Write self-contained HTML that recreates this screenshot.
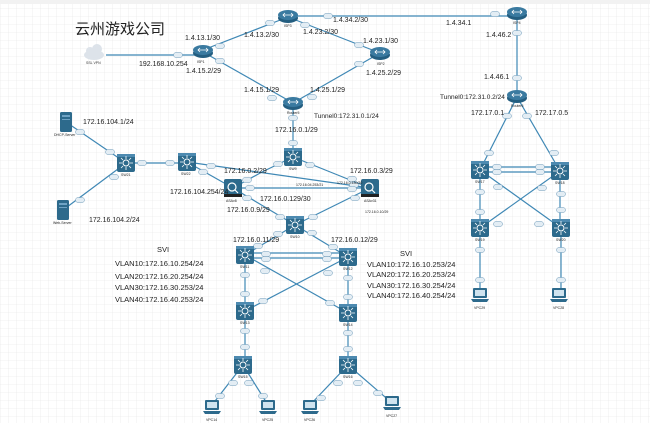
<!DOCTYPE html>
<html><head><meta charset="utf-8"><style>
html,body{margin:0;padding:0;width:650px;height:423px;overflow:hidden;background:#fff}
svg{display:block}
text{font-family:"Liberation Sans","Noto Sans CJK SC",sans-serif;fill:#222}
.l{font-size:7px}
.s{font-size:3.5px;fill:#333}
.v{font-size:7.5px}
</style></head><body>
<svg width="650" height="423" viewBox="0 0 650 423" xmlns="http://www.w3.org/2000/svg">
<defs>
<pattern id="g" width="8" height="8" patternUnits="userSpaceOnUse"><path d="M8 0H0V8" fill="none" stroke="#e4e4e4" stroke-width="0.6"/></pattern>
<g id="sw"><rect x="-9" y="-9" width="18" height="18" rx="2" fill="#2d6a8c"/><rect x="-9" y="-9" width="18" height="3" fill="#4d8ab0"/><circle r="3" fill="none" stroke="#fff" stroke-width="1"/><path d="M0-7V-4M0 4V7M-7 0H-4M4 0H7M-5-5L-3-3M5 5L3 3M5-5L3-3M-5 5L-3 3" stroke="#fff" stroke-width="0.8"/></g>
<g id="rt"><ellipse cx="0" cy="2" rx="10" ry="5" fill="#245e80"/><ellipse cx="0" cy="-1" rx="10" ry="5" fill="#3a7aa0"/><path d="M-5-1H5M-3-3L-5-1L-3 1M3-3L5-1L3 1" stroke="#fff" stroke-width="0.8" fill="none"/></g>
<g id="asa"><rect x="-9" y="-9" width="18" height="18" rx="2" fill="#2d6a8c"/><rect x="-9" y="6" width="18" height="3" fill="#222"/><circle cx="-1" cy="-1" r="4" fill="none" stroke="#fff" stroke-width="1.2"/><path d="M2 2L5 5" stroke="#fff" stroke-width="1.2"/></g>
<g id="pc"><rect x="-7" y="-8" width="14" height="10" rx="1" fill="#2d6a8c"/><rect x="-5" y="-6" width="10" height="6" fill="#cfe3ef"/><path d="M-9 3H9L7 6H-7Z" fill="#2d6a8c"/></g>
<g id="srv"><rect x="-6" y="-10" width="12" height="20" rx="1.5" fill="#2d6a8c"/><rect x="-4" y="-7" width="8" height="2" fill="#6fa3c4"/><rect x="-4" y="-3" width="8" height="1" fill="#6fa3c4"/></g>
<rect id="pl" x="-4.5" y="-2.5" width="9" height="5" rx="2.5" fill="#e3edf4" stroke="#6a98b8" stroke-width="0.5"/>
</defs>
<rect width="650" height="423" fill="url(#g)"/>
<rect width="650" height="4" fill="#f2f2f2"/>
<g stroke="#3f88b5" stroke-width="1.2" fill="none">
<path d="M106 55H195"/>
<path d="M203 50L288 17"/><path d="M203 52L293 103"/>
<path d="M288 16H517"/><path d="M288 17L380 53"/><path d="M380 53L293 103"/>
<path d="M517 13V97"/>
<path d="M293 103V157"/>
<path d="M66 122L126 163"/><path d="M126 163L63 210"/><path d="M126 163H187"/>
<path d="M187 162L370 188"/><path d="M187 162L233 188"/>
<path d="M293 157L262 172L233 188"/><path d="M293 157L370 188"/>
<path d="M233 188H370"/><path d="M233 188L295 225"/><path d="M370 188L295 225"/>
<path d="M295 225L245 255"/><path d="M295 225L348 257"/>
<path d="M245 253H348"/><path d="M245 258H348"/>
<path d="M245 255L348 313"/><path d="M348 257L245 311"/>
<path d="M245 255V311"/><path d="M348 257V313"/>
<path d="M245 311V365"/><path d="M348 313V365"/>
<path d="M243 365L212 405"/><path d="M243 365L268 405"/>
<path d="M348 365L310 405"/><path d="M348 365L392 403"/>
<path d="M517 97L480 170"/><path d="M517 97L560 171"/>
<path d="M480 167H560"/><path d="M480 172H560"/>
<path d="M480 170L561 228"/><path d="M560 171L480 228"/>
<path d="M480 170V228"/><path d="M560 171V228"/>
<path d="M480 228V295"/><path d="M561 228V295"/>
</g>
<g>
<use href="#pl" x="178" y="55"/><use href="#pl" x="220" y="46"/><use href="#pl" x="220" y="61"/><use href="#pl" x="270" y="23"/><use href="#pl" x="305" y="25"/><use href="#pl" x="328" y="16"/><use href="#pl" x="495" y="14"/>
<use href="#pl" x="359" y="45"/><use href="#pl" x="359" y="64"/><use href="#pl" x="272" y="98"/><use href="#pl" x="312" y="97"/><use href="#pl" x="293" y="118"/><use href="#pl" x="517" y="33"/><use href="#pl" x="517" y="78"/>
<use href="#pl" x="80" y="132"/><use href="#pl" x="110" y="152"/><use href="#pl" x="114" y="177"/><use href="#pl" x="80" y="200"/><use href="#pl" x="142" y="163"/><use href="#pl" x="170" y="163"/>
<use href="#pl" x="211" y="166"/><use href="#pl" x="203" y="172"/><use href="#pl" x="293" y="143"/><use href="#pl" x="278" y="164"/><use href="#pl" x="310" y="165"/><use href="#pl" x="247" y="180"/>
<use href="#pl" x="352" y="179"/><use href="#pl" x="354" y="185"/><use href="#pl" x="250" y="188"/><use href="#pl" x="352" y="189"/><use href="#pl" x="247" y="198"/><use href="#pl" x="355" y="198"/><use href="#pl" x="280" y="217"/><use href="#pl" x="313" y="217"/>
<use href="#pl" x="278" y="234"/><use href="#pl" x="312" y="233"/><use href="#pl" x="258" y="246"/><use href="#pl" x="266" y="254"/><use href="#pl" x="266" y="259"/><use href="#pl" x="327" y="254"/><use href="#pl" x="327" y="259"/><use href="#pl" x="333" y="247"/>
<use href="#pl" x="245" y="275"/><use href="#pl" x="245" y="294"/><use href="#pl" x="348" y="278"/><use href="#pl" x="348" y="297"/><use href="#pl" x="265" y="271"/><use href="#pl" x="328" y="273"/><use href="#pl" x="263" y="301"/><use href="#pl" x="330" y="303"/>
<use href="#pl" x="245" y="331"/><use href="#pl" x="245" y="347"/><use href="#pl" x="348" y="333"/><use href="#pl" x="348" y="349"/>
<use href="#pl" x="233" y="383"/><use href="#pl" x="249" y="383"/><use href="#pl" x="220" y="396"/><use href="#pl" x="263" y="396"/><use href="#pl" x="338" y="383"/><use href="#pl" x="358" y="383"/><use href="#pl" x="321" y="398"/><use href="#pl" x="378" y="393"/>
<use href="#pl" x="507" y="116"/><use href="#pl" x="527" y="116"/><use href="#pl" x="489" y="153"/><use href="#pl" x="554" y="153"/><use href="#pl" x="497" y="167"/><use href="#pl" x="497" y="172"/><use href="#pl" x="540" y="167"/><use href="#pl" x="540" y="172"/>
<use href="#pl" x="480" y="192"/><use href="#pl" x="480" y="212"/><use href="#pl" x="561" y="194"/><use href="#pl" x="561" y="210"/><use href="#pl" x="498" y="187"/><use href="#pl" x="542" y="188"/><use href="#pl" x="498" y="224"/><use href="#pl" x="539" y="224"/>
<use href="#pl" x="480" y="250"/><use href="#pl" x="480" y="280"/><use href="#pl" x="561" y="250"/><use href="#pl" x="561" y="280"/>
</g>
<g fill="#dde3ea"><ellipse cx="94" cy="55" rx="10" ry="5"/><circle cx="90" cy="51" r="4"/><circle cx="97" cy="49" r="5"/></g>
<text x="86" y="64" class="s">SSL VPN</text>
<use href="#rt" x="203" y="51"/><use href="#rt" x="288" y="16"/><use href="#rt" x="380" y="53"/><use href="#rt" x="517" y="13"/><use href="#rt" x="293" y="103"/><use href="#rt" x="517" y="96"/>
<use href="#srv" x="66" y="122"/><use href="#srv" x="63" y="210"/>
<use href="#sw" x="126" y="163"/><use href="#sw" x="187" y="162"/><use href="#sw" x="293" y="157"/><use href="#sw" x="295" y="225"/>
<use href="#asa" x="233" y="188"/><use href="#asa" x="370" y="188"/>
<use href="#sw" x="245" y="255"/><use href="#sw" x="348" y="257"/><use href="#sw" x="245" y="311"/><use href="#sw" x="348" y="313"/><use href="#sw" x="243" y="365"/><use href="#sw" x="348" y="365"/>
<use href="#sw" x="480" y="170"/><use href="#sw" x="560" y="171"/><use href="#sw" x="480" y="228"/><use href="#sw" x="561" y="228"/>
<use href="#pc" x="212" y="408"/><use href="#pc" x="268" y="408"/><use href="#pc" x="310" y="408"/><use href="#pc" x="392" y="404"/><use href="#pc" x="480" y="296"/><use href="#pc" x="559" y="296"/>
<g class="s">
<text x="197" y="63">ISP1</text><text x="284" y="27">ISP3</text><text x="377" y="65">ISP2</text><text x="513" y="24">ISP4</text><text x="287" y="114">Router5</text><text x="511" y="107">Router6</text>
<text x="54" y="136">DHCP-Server</text><text x="53" y="224">Web-Server</text><text x="121" y="176">SW21</text><text x="181" y="175">SW22</text><text x="289" y="170">SW9</text><text x="290" y="238">SW10</text>
<text x="226" y="202">ASAv8</text><text x="364" y="202">ASAv31</text>
<text x="240" y="268">SW11</text><text x="343" y="270">SW12</text><text x="240" y="324">SW13</text><text x="343" y="326">SW14</text><text x="238" y="378">SW15</text><text x="343" y="378">SW16</text>
<text x="475" y="183">SW17</text><text x="555" y="184">SW18</text><text x="475" y="241">SW19</text><text x="556" y="241">SW20</text>
<text x="474" y="309">VPC29</text><text x="553" y="309">VPC28</text><text x="206" y="421">VPC14</text><text x="262" y="421">VPC25</text><text x="304" y="421">VPC26</text><text x="386" y="417">VPC27</text>
<text x="365" y="213">172.16.0.10/29</text><text x="337" y="184">172.16.0.130/30</text><text x="296" y="186">172.16.04.253/21</text>
</g>
<text x="75" y="34" font-size="15">云州游戏公司</text>
<g class="l">
<text x="139" y="66">192.168.10.254</text><text x="185" y="40">1.4.13.1/30</text><text x="186" y="73">1.4.15.2/29</text>
<text x="244" y="37">1.4.13.2/30</text><text x="303" y="34">1.4.23.2/30</text><text x="333" y="22">1.4.34.2/30</text><text x="446" y="25">1.4.34.1</text>
<text x="363" y="43">1.4.23.1/30</text><text x="366" y="75">1.4.25.2/29</text><text x="244" y="92">1.4.15.1/29</text><text x="310" y="92">1.4.25.1/29</text>
<text x="486" y="37">1.4.46.2</text><text x="484" y="79">1.4.46.1</text><text x="440" y="99" font-size="6.5">Tunnel0:172.31.0.2/24</text>
<text x="471" y="115">172.17.0.1</text><text x="535" y="115">172.17.0.5</text>
<text x="314" y="118" font-size="6.5">Tunnel0:172.31.0.1/24</text><text x="275" y="132">172.16.0.1/29</text>
<text x="83" y="124">172.16.104.1/24</text><text x="89" y="222">172.16.104.2/24</text><text x="170" y="194">172.16.104.254/24</text>
<text x="224" y="173">172.16.0.2/29</text><text x="350" y="173">172.16.0.3/29</text><text x="260" y="201">172.16.0.129/30</text><text x="227" y="212">172.16.0.9/29</text>
<text x="233" y="242">172.16.0.11/29</text><text x="331" y="242">172.16.0.12/29</text>
</g>
<g class="v">
<text x="157" y="252">SVI</text>
<text x="115" y="266">VLAN10:172.16.10.254/24</text><text x="115" y="279">VLAN20:172.16.20.254/24</text><text x="115" y="290">VLAN30:172.16.30.253/24</text><text x="115" y="302">VLAN40:172.16.40.253/24</text>
<text x="400" y="256">SVI</text>
<text x="367" y="267">VLAN10:172.16.10.253/24</text><text x="367" y="277">VLAN20:172.16.20.253/24</text><text x="367" y="288">VLAN30:172.16.30.254/24</text><text x="367" y="298">VLAN40:172.16.40.254/24</text>
</g>
</svg>
</body></html>
